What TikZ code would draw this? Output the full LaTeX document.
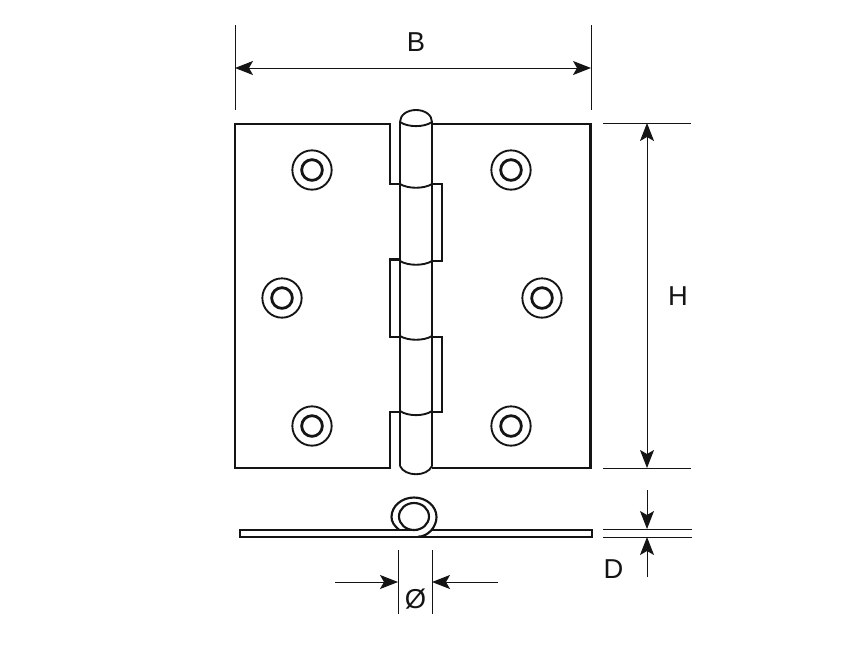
\documentclass[tikz,border=0pt]{standalone}
\usepackage{fontspec}
\setmainfont{Liberation Sans}
\usetikzlibrary{arrows.meta}
\definecolor{ink}{HTML}{141414}
\tikzset{
  plate/.style={draw=ink,line width=1.6pt,line join=miter},
  pin/.style={draw=ink,line width=1.4pt},
  thin dim/.style={draw=ink,line width=0.75pt},
  dimarrow/.style={thin dim,-{Stealth[length=13.5pt,width=10.5pt,inset=3pt]}},
  dimboth/.style={thin dim,{Stealth[length=13.5pt,width=10.5pt,inset=3pt]}-{Stealth[length=13.5pt,width=10.5pt,inset=3pt]}},
  dimlabel/.style={font=\fontsize{20.5}{22}\selectfont,text=ink,inner sep=0pt},
  screw outer/.style={draw=ink,line width=1.4pt,circle,minimum size=29.5pt,inner sep=0pt},
  screw inner/.style={draw=ink,line width=2.1pt,circle,minimum size=15.5pt,inner sep=0pt}
}
\begin{document}
\begin{tikzpicture}[x=0.75pt,y=-0.75pt]
\useasboundingbox (0,0) rectangle (862,647);
\fill[white] (0,0) rectangle (862,647);
% left leaf
\draw[plate] (400,184) -- (390,184) -- (390,124) -- (235,124) -- (235,468) -- (390,468) -- (390,412) -- (400,412);
\draw[plate] (400,259.5) -- (390,259.5) -- (390,337) -- (400,337);
% right leaf
\draw[plate] (432,124) -- (590.5,124) -- (590.5,468) -- (432,468);
\draw[plate] (432,184) -- (442,184) -- (442,261) -- (432,261);
\draw[plate] (432,337) -- (442,337) -- (442,412) -- (432,412);
% pin
\draw[pin] (400,466) -- (400,122) .. controls (400,115) and (407,110) .. (416,110)
   .. controls (425,110) and (432,115) .. (432,122) -- (432,466);
\draw[pin] (400,122) .. controls (408,127.5) and (424,127.5) .. (432,122);
\draw[pin] (400,184) .. controls (408,189) and (424,189) .. (432,184);
\draw[pin] (400,261) .. controls (408,266) and (424,266) .. (432,261);
\draw[pin] (400,336) .. controls (408,341) and (424,341) .. (432,336);
\draw[pin] (400,411) .. controls (408,416.5) and (424,416.5) .. (432,411);
\draw[pin] (400,466) .. controls (405,477) and (427,477) .. (432,466);
% screws
\foreach \n/\x/\y in {a/312/170,b/511/170,c/282/298,d/542/298,e/312/426,f/511/426}{
  \node[screw outer] (so\n) at (\x,\y) {};
  \node[screw inner] (si\n) at (\x,\y) {};
}
% end view
\draw[plate] (418,529.7) -- (240,529.7) -- (240,536.7) -- (592,536.7) -- (592,529.7) -- (432,529.7);
\draw[plate] (399,529.7) .. controls (394.5,526) and (391.5,522) .. (391.5,517)
   .. controls (391.5,506.2) and (401.6,497.5) .. (414,497.5)
   .. controls (426.4,497.5) and (436.5,506.2) .. (436.5,517)
   .. controls (436.5,527) and (428,536.7) .. (418,536.7);
\draw[plate] (429,516.5) .. controls (429,509) and (422.3,503) .. (414,503)
   .. controls (405.7,503) and (399,509) .. (399,516.5)
   .. controls (399,524) and (405.7,530) .. (414,530)
   .. controls (422.3,530) and (429,524) .. (429,516.5) -- cycle;
% B
\coordinate (b1t) at (235,25); \coordinate (b1b) at (235,110);
\coordinate (b2t) at (591,25); \coordinate (b2b) at (591,110);
\coordinate (bl) at (235,68); \coordinate (br) at (591,68);
\draw[thin dim] (b1t) -- (b1b);
\draw[thin dim] (b2t) -- (b2b);
\draw[dimboth] (bl) -- (br);
\node[dimlabel] (B) at (416,42) {B};
% H
\coordinate (h1l) at (603,123); \coordinate (h1r) at (691,123);
\coordinate (h2l) at (603,468); \coordinate (h2r) at (691,468);
\coordinate (ht) at (647,123); \coordinate (hb) at (647,468);
\draw[thin dim] (h1l) -- (h1r);
\draw[thin dim] (h2l) -- (h2r);
\draw[dimboth] (ht) -- (hb);
\node[dimlabel] (H) at (678,296) {H};
% D
\coordinate (d1l) at (603,529); \coordinate (d1r) at (692,529);
\coordinate (d2l) at (603,537); \coordinate (d2r) at (692,537);
\coordinate (dta) at (647,490); \coordinate (dtb) at (647,529);
\coordinate (dba) at (647,577); \coordinate (dbb) at (647,537);
\draw[thin dim] (d1l) -- (d1r);
\draw[thin dim] (d2l) -- (d2r);
\draw[dimarrow] (dta) -- (dtb);
\draw[dimarrow] (dba) -- (dbb);
\node[dimlabel] (D) at (613.5,569) {D};
% diameter
\coordinate (o1t) at (398,550); \coordinate (o1b) at (398,614);
\coordinate (o2t) at (432,550); \coordinate (o2b) at (432,614);
\coordinate (ola) at (335,582); \coordinate (olb) at (398,582);
\coordinate (ora) at (498,582); \coordinate (orb) at (432,582);
\draw[thin dim] (o1t) -- (o1b);
\draw[thin dim] (o2t) -- (o2b);
\draw[dimarrow] (ola) -- (olb);
\draw[dimarrow] (ora) -- (orb);
\node[dimlabel] (O) at (415.5,599) {Ø};
\end{tikzpicture}
\end{document}
